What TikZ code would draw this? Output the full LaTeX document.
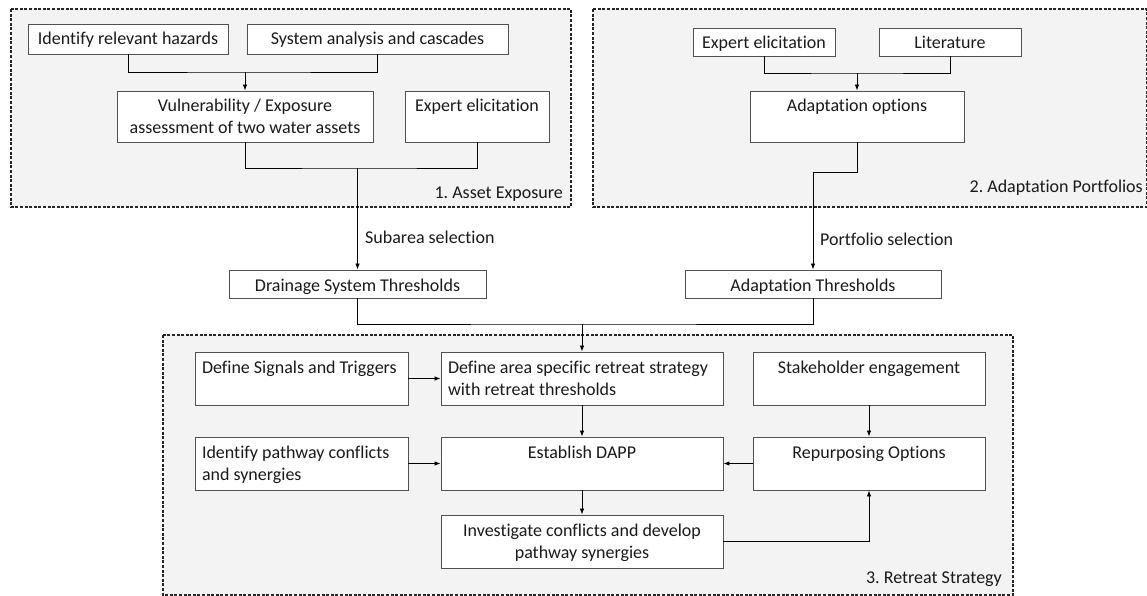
\documentclass[tikz,border=0pt]{standalone}
\usepackage{fontspec}
\setmainfont{Carlito}[Ligatures=NoCommon]
\usetikzlibrary{arrows.meta,shadows}
\frenchspacing
\definecolor{panelfill}{HTML}{F3F3F3}
\definecolor{boxline}{HTML}{505050}
\definecolor{txt}{HTML}{1A1A1A}
\newcommand{\bt}[3]{\parbox[c][#2][t]{#1}{\vspace*{5.6pt}\centering\strut #3\par}}
\newcommand{\btl}[3]{\parbox[c][#2][t]{#1}{\vspace*{5.6pt}\raggedright\strut #3\par}}
\begin{document}
\begin{tikzpicture}[x=1pt,y=-1pt,
  font=\fontsize{18}{22}\selectfont\frenchspacing, text=txt,
  panel/.style={draw=black!85, line width=1.1pt, dash pattern=on 3pt off 1.6pt, fill=panelfill},
  bx/.style={draw=boxline, line width=0.9pt, fill=white, inner sep=0pt},
  sbx/.style={bx, drop shadow={shadow xshift=1.2pt, shadow yshift=-1.2pt, opacity=0.25}},
  ln/.style={draw=black, line width=0.8pt},
  arr/.style={ln, -{Latex[length=6pt,width=4.5pt]}},
  lbl/.style={inner sep=0pt}]
\useasboundingbox (0,0) rectangle (1147,596);
% panels
\path[panel] (11,9) rectangle (571,207);
\path[panel] (593,9) rectangle (1146.4,207);
\path[panel] (163,335) rectangle (1013,595);
% panel 1
\node[bx, minimum width=200pt, minimum height=30pt] (haz) at (128,39) {\bt{186pt}{30pt}{Identify relevant hazards}};
\node[bx, minimum width=261pt, minimum height=30pt] (sys) at (377.5,39) {\bt{247pt}{30pt}{System analysis and cascades}};
\node[bx, minimum width=256pt, minimum height=51pt] (vuln) at (245,116.5) {\bt{242pt}{51pt}{Vulnerability / Exposure\\assessment of two water assets}};
\node[bx, minimum width=144pt, minimum height=51pt] (exp1) at (477,116.5) {\bt{130pt}{51pt}{Expert elicitation}};
\node[lbl, anchor=base east] (p1) at (563,198) {1. Asset Exposure};
% panel 2
\node[bx, minimum width=142pt, minimum height=28pt] (exp2) at (764,42) {\bt{128pt}{28pt}{Expert elicitation}};
\node[bx, minimum width=142pt, minimum height=28pt] (lit) at (950,42) {\bt{128pt}{28pt}{Literature}};
\node[bx, minimum width=214pt, minimum height=51pt] (adopt) at (857,116.5) {\bt{200pt}{51pt}{Adaptation options}};
\node[lbl, anchor=base east] (p2) at (1143,193) {2. Adaptation Portfolios};
% middle
\node[bx, minimum width=257pt, minimum height=28pt] (drain) at (357.5,284) {\bt{243pt}{28pt}{Drainage System Thresholds}};
\node[bx, minimum width=256pt, minimum height=28pt] (athr) at (813,284) {\bt{242pt}{28pt}{Adaptation Thresholds}};
\node[lbl, anchor=base west] (lsub) at (365,243) {Subarea selection};
\node[lbl, anchor=base west] (lport) at (820,245) {Portfolio selection};
% panel 3
\node[sbx, minimum width=213pt, minimum height=53pt] (sig) at (301.5,378.5) {\btl{199pt}{53pt}{Define Signals and Triggers}};
\node[sbx, minimum width=282pt, minimum height=53pt] (darea) at (582,378.5) {\btl{268pt}{53pt}{Define area specific retreat strategy\\with retreat thresholds}};
\node[sbx, minimum width=232pt, minimum height=53pt] (stake) at (869,378.5) {\bt{218pt}{53pt}{Stakeholder engagement}};
\node[sbx, minimum width=213pt, minimum height=53pt] (ipc) at (301.5,463.5) {\btl{199pt}{53pt}{Identify pathway conflicts\\and synergies}};
\node[sbx, minimum width=282pt, minimum height=53pt] (dapp) at (582,463.5) {\bt{268pt}{53pt}{Establish DAPP}};
\node[sbx, minimum width=232pt, minimum height=53pt] (rep) at (869,463.5) {\bt{218pt}{53pt}{Repurposing Options}};
\node[sbx, minimum width=282pt, minimum height=53pt] (inv) at (582,541.5) {\bt{268pt}{53pt}{Investigate conflicts and develop\\pathway synergies}};
\node[lbl, anchor=base east] (p3) at (1002,583) {3. Retreat Strategy};
% junctions
\coordinate (j1) at (245,72);
\coordinate (j2) at (357.5,168);
\coordinate (j3) at (857,73);
\coordinate (j4) at (813,172);
\coordinate (j5) at (582,324);
% connectors
\draw[ln] (haz.south) |- (j1) -| (sys.south);
\draw[arr] (j1) -- (vuln.north);
\draw[ln] (vuln.south) |- (j2) -| (exp1.south);
\draw[arr] (j2) -- (drain.north);
\draw[ln] (exp2.south) |- (j3) -| (lit.south);
\draw[arr] (j3) -- (adopt.north);
\draw[ln] (adopt.south) |- (j4);
\draw[arr] (j4) -- (athr.north);
\draw[ln] (drain.south) |- (j5) -| (athr.south);
\draw[arr] (j5) -- (darea.north);
\draw[arr] (sig.east) -- (darea.west);
\draw[arr] (darea.south) -- (dapp.north);
\draw[arr] (stake.south) -- (rep.north);
\draw[arr] (ipc.east) -- (dapp.west);
\draw[arr] (rep.west) -- (dapp.east);
\draw[arr] (dapp.south) -- (inv.north);
\draw[arr] (inv.east) -| (rep.south);
\end{tikzpicture}
\end{document}
